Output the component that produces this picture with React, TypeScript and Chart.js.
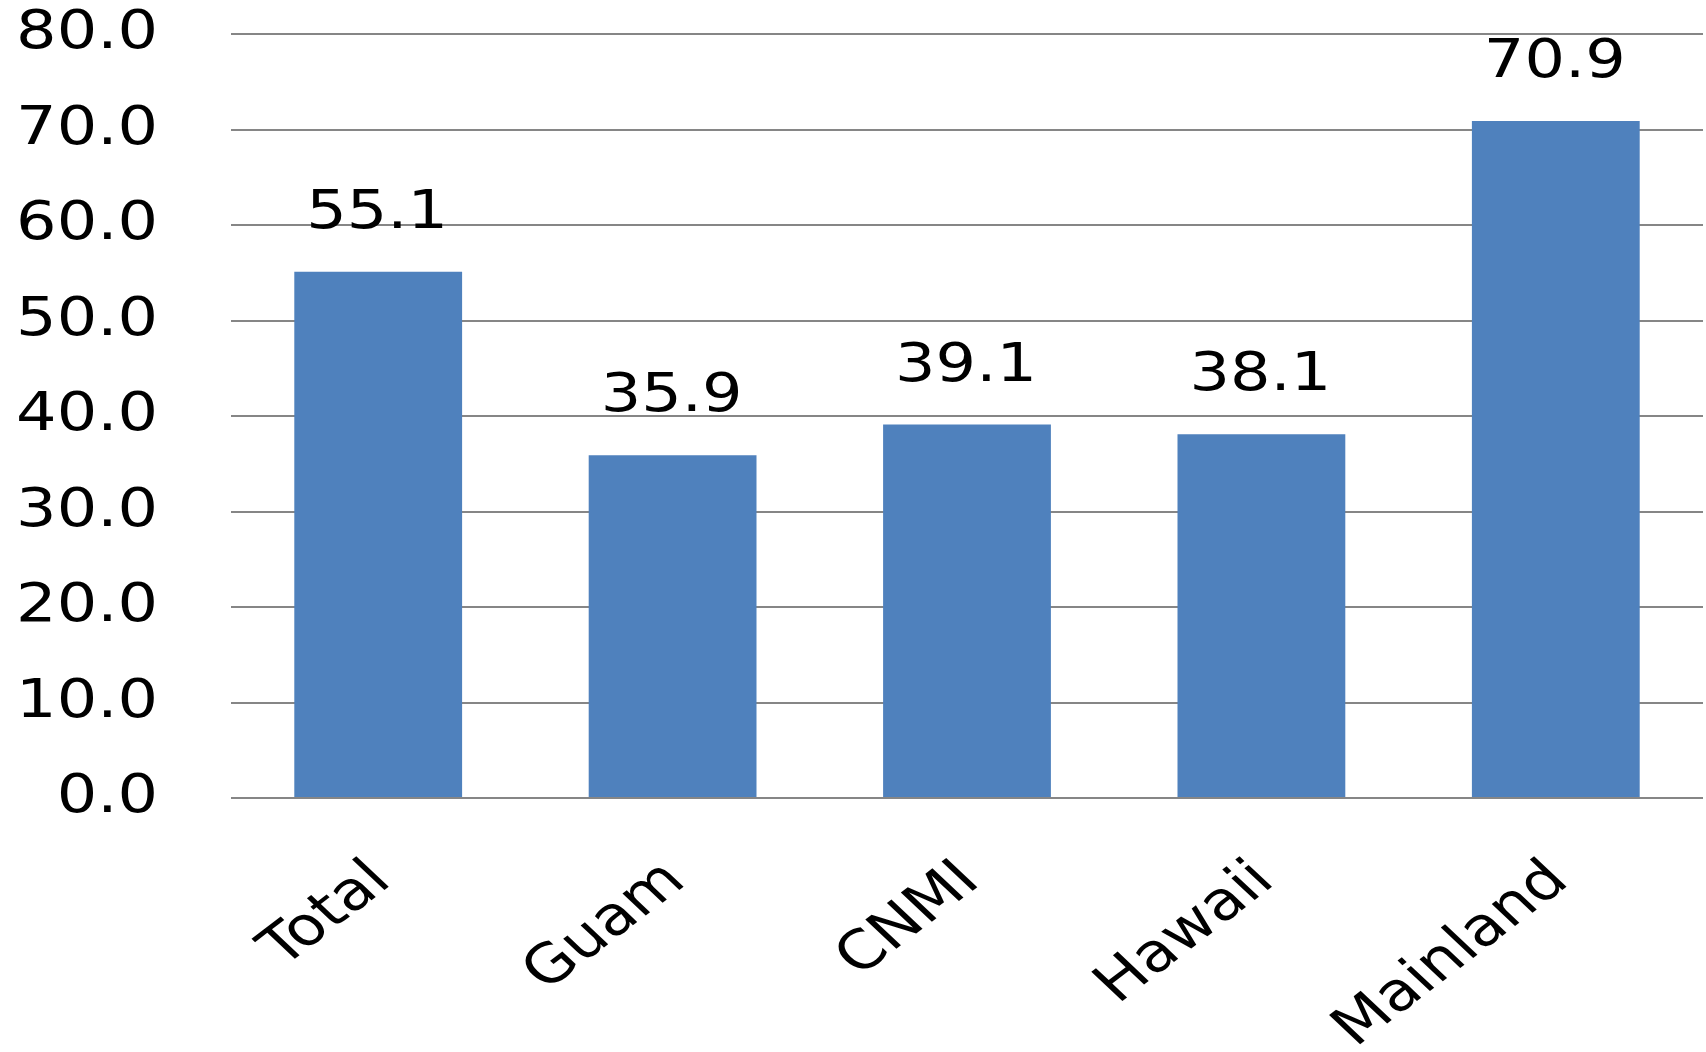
import React, { useEffect, useRef } from "react";
import { Chart, registerables } from "chart.js";

Chart.register(...registerables);

const categories = ["Total", "Guam", "CNMI", "Hawaii", "Mainland"];
const values = [55.1, 35.9, 39.1, 38.1, 70.9];
const yMin = 0;
const yMax = 80;
const yStep = 10;

const FONT_FAMILY = "'DejaVu Sans', Verdana, sans-serif";
const FONT_SIZE = 54;
const STRETCH = 1.18;

// Draws text stretched horizontally in screen space, like the reference's wide lettering.
const stretchPlugin = {
  id: "stretchText",
  beforeDraw(chart: any) {
    const ctx = chart.ctx;
    if (ctx.__stretched) return;
    const orig = ctx.fillText;
    ctx.fillText = function (text: string, x: number, y: number) {
      const m = this.getTransform();
      const p = m.transformPoint(new DOMPoint(x, y));
      const n = new DOMMatrix()
        .translate(p.x, p.y)
        .scale(STRETCH, 1)
        .translate(-p.x, -p.y)
        .multiply(m);
      this.save();
      this.setTransform(n);
      orig.call(this, text, x, y);
      this.restore();
    };
    ctx.__stretched = true;
  },
};

const valueLabels = {
  id: "valueLabels",
  afterDatasetsDraw(chart: any) {
    const ctx = chart.ctx;
    const meta = chart.getDatasetMeta(0);
    ctx.save();
    ctx.font = `${FONT_SIZE}px ${FONT_FAMILY}`;
    ctx.fillStyle = "#000000";
    ctx.textAlign = "center";
    ctx.textBaseline = "alphabetic";
    meta.data.forEach((bar: any, i: number) => {
      ctx.fillText(values[i].toFixed(1), bar.x - 1, bar.y - 44);
    });
    ctx.restore();
  },
};

export default function App() {
  const ref = useRef<HTMLCanvasElement | null>(null);
  useEffect(() => {
    if (!ref.current) return;
    const chart = new Chart(ref.current, {
      type: "bar",
      data: {
        labels: categories,
        datasets: [
          {
            data: values,
            backgroundColor: "#4F81BD",
            borderWidth: 0,
            barPercentage: 0.57,
            categoryPercentage: 1,
          },
        ],
      },
      options: {
        responsive: false,
        animation: false,
        layout: { padding: { top: 34, right: 3, left: 0, bottom: 0 } },
        plugins: { legend: { display: false }, tooltip: { enabled: false } },
        scales: {
          x: {
            grid: { display: false, drawTicks: false },
            border: { display: false },
            ticks: {
              color: "#000000",
              font: { family: FONT_FAMILY, size: FONT_SIZE },
              minRotation: 42,
              maxRotation: 42,
              padding: 51,
              labelOffset: 4,
            },
            afterFit(scale: any) {
              scale.height = 254;
              scale.paddingLeft = 0;
              scale.paddingRight = 0;
            },
          },
          y: {
            min: yMin,
            max: yMax,
            grid: { color: "#868686", lineWidth: 2, drawTicks: false },
            border: { display: false },
            ticks: {
              stepSize: yStep,
              color: "#000000",
              font: { family: FONT_FAMILY, size: FONT_SIZE },
              padding: 73,
              callback: (v: any) => Number(v).toFixed(1),
            },
            afterFit(scale: any) {
              scale.width = 231;
              scale.paddingTop = 0;
              scale.paddingBottom = 0;
            },
          },
        },
      },
      plugins: [stretchPlugin, valueLabels],
    });
    return () => chart.destroy();
  }, []);
  return (
    <div style={{ position: "fixed", left: 0, top: 0, width: 1706, height: 1052, background: "#ffffff" }}>
      <canvas ref={ref} width={1706} height={1052} />
    </div>
  );
}
